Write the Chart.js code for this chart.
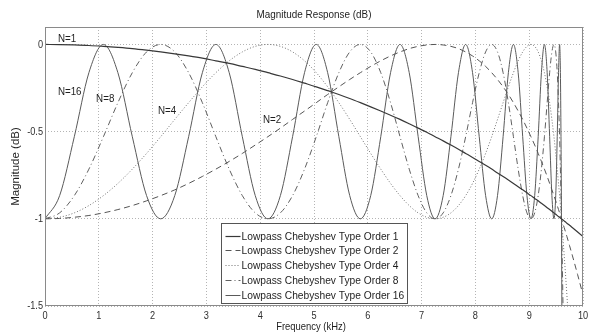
<!DOCTYPE html>
<html>
<head>
<meta charset="utf-8">
<script src="https://cdn.jsdelivr.net/npm/chart.js@4/dist/chart.umd.min.js"></script>
<style>
  html, body { margin: 0; padding: 0; background: #fff; }
  #wrap { position: relative; width: 592px; height: 336px; }
</style>
</head>
<body>
<div id="wrap"><canvas id="c" width="592" height="336"></canvas></div>
<script>
// Frequency samples (kHz) across the passband, 0 .. 9.6 kHz
const freqKHz = [
  0, 0.272, 0.545, 0.816, 1.086, 1.355, 1.623, 1.888, 2.151, 2.412, 2.670, 2.925, 3.176,
  3.424, 3.668, 3.908, 4.143, 4.375, 4.602, 4.824, 5.042, 5.254, 5.462, 5.664, 5.862,
  6.054, 6.241, 6.423, 6.599, 6.770, 6.936, 7.096, 7.251, 7.401, 7.545, 7.685, 7.819,
  7.947, 8.071, 8.190, 8.303, 8.411, 8.515, 8.613, 8.707, 8.795, 8.879, 8.958, 9.032,
  9.102, 9.167, 9.227, 9.283, 9.334, 9.380, 9.422, 9.460, 9.493, 9.521, 9.545, 9.565,
  9.580, 9.591, 9.598, 9.600
];

// Magnitude (dB) in the passband, one array per filter order
const order1 = [
  0, -0.001, -0.003, -0.006, -0.011, -0.017, -0.024, -0.033, -0.043, -0.054, -0.066, -0.079, -0.094,
  -0.109, -0.126, -0.143, -0.162, -0.181, -0.201, -0.222, -0.243, -0.265, -0.287, -0.310, -0.334,
  -0.358, -0.382, -0.406, -0.430, -0.455, -0.480, -0.504, -0.529, -0.553, -0.577, -0.601, -0.625,
  -0.648, -0.671, -0.693, -0.715, -0.737, -0.757, -0.777, -0.797, -0.816, -0.834, -0.851, -0.867,
  -0.883, -0.897, -0.911, -0.924, -0.936, -0.947, -0.957, -0.966, -0.974, -0.981, -0.987, -0.991,
  -0.995, -0.998, -1.000, -1.000
];
const order2 = [
  -1, -0.998, -0.991, -0.981, -0.966, -0.947, -0.924, -0.897, -0.867, -0.834, -0.797, -0.757, -0.715,
  -0.671, -0.625, -0.577, -0.529, -0.480, -0.430, -0.382, -0.334, -0.287, -0.243, -0.201, -0.162,
  -0.126, -0.094, -0.066, -0.043, -0.024, -0.011, -0.003, 0, -0.003, -0.011, -0.024, -0.043,
  -0.066, -0.094, -0.126, -0.162, -0.201, -0.243, -0.287, -0.334, -0.382, -0.430, -0.480, -0.529,
  -0.577, -0.625, -0.671, -0.715, -0.757, -0.797, -0.834, -0.867, -0.897, -0.924, -0.947, -0.966,
  -0.981, -0.991, -0.998, -1
];
const order4 = [
  -1, -0.991, -0.966, -0.924, -0.867, -0.797, -0.715, -0.625, -0.529, -0.430, -0.334, -0.243, -0.162,
  -0.094, -0.043, -0.011, 0, -0.011, -0.043, -0.094, -0.162, -0.243, -0.334, -0.430, -0.529,
  -0.625, -0.715, -0.797, -0.867, -0.924, -0.966, -0.991, -1, -0.991, -0.966, -0.924, -0.867,
  -0.797, -0.715, -0.625, -0.529, -0.430, -0.334, -0.243, -0.162, -0.094, -0.043, -0.011, 0,
  -0.011, -0.043, -0.094, -0.162, -0.243, -0.334, -0.430, -0.529, -0.625, -0.715, -0.797, -0.867,
  -0.924, -0.966, -0.991, -1
];
const order8 = [
  -1, -0.966, -0.867, -0.715, -0.529, -0.334, -0.162, -0.043, 0, -0.043, -0.162, -0.334, -0.529,
  -0.715, -0.867, -0.966, -1, -0.966, -0.867, -0.715, -0.529, -0.334, -0.162, -0.043, 0,
  -0.043, -0.162, -0.334, -0.529, -0.715, -0.867, -0.966, -1, -0.966, -0.867, -0.715, -0.529,
  -0.334, -0.162, -0.043, 0, -0.043, -0.162, -0.334, -0.529, -0.715, -0.867, -0.966, -1,
  -0.966, -0.867, -0.715, -0.529, -0.334, -0.162, -0.043, 0, -0.043, -0.162, -0.334, -0.529,
  -0.715, -0.867, -0.966, -1
];
const order16 = [
  -1, -0.867, -0.529, -0.162, 0, -0.162, -0.529, -0.867, -1, -0.867, -0.529, -0.162, 0,
  -0.162, -0.529, -0.867, -1, -0.867, -0.529, -0.162, 0, -0.162, -0.529, -0.867, -1,
  -0.867, -0.529, -0.162, 0, -0.162, -0.529, -0.867, -1, -0.867, -0.529, -0.162, 0,
  -0.162, -0.529, -0.867, -1, -0.867, -0.529, -0.162, 0, -0.162, -0.529, -0.867, -1,
  -0.867, -0.529, -0.162, 0, -0.162, -0.529, -0.867, -1, -0.867, -0.529, -0.162, 0,
  -0.162, -0.529, -0.867, -1
];

// Transition band, 9.6 .. 10 kHz
const tailKHz = [9.61, 9.62, 9.63, 9.65, 9.67, 9.70, 9.75, 9.80, 9.90, 10.0];
const tail1  = [-1.003, -1.005, -1.007, -1.012, -1.017, -1.025, -1.037, -1.050, -1.076, -1.102];
const tail2  = [-1.010, -1.020, -1.030, -1.050, -1.070, -1.101, -1.154, -1.208, -1.320, -1.437];
const tail4  = [-1.040, -1.080, -1.122, -1.207, -1.295, -1.434, -1.680, null, null, null];
const tail8  = [-1.164, -1.341, -1.529, -1.939, null, null, null, null, null, null];
const tail16 = [-1.724, -2.629, null, null, null, null, null, null, null, null];

const seriesNames = [
  'Lowpass Chebyshev Type Order 1',
  'Lowpass Chebyshev Type Order 2',
  'Lowpass Chebyshev Type Order 4',
  'Lowpass Chebyshev Type Order 8',
  'Lowpass Chebyshev Type Order 16'
];
const xTickValues = [0, 1, 2, 3, 4, 5, 6, 7, 8, 9, 10];
const yTickValues = [-1.5, -1, -0.5, 0];

// In-plot curve tags, placed in data units (kHz, dB)
const curveTags = [
  { text: 'N=1',  f: 0.24, db: 0.034 },
  { text: 'N=16', f: 0.24, db: -0.27 },
  { text: 'N=8',  f: 0.95, db: -0.31 },
  { text: 'N=4',  f: 2.10, db: -0.38 },
  { text: 'N=2',  f: 4.05, db: -0.43 }
];

const FONT = '"Liberation Sans", Arial, Helvetica, sans-serif';
const INK = '#1e1e1e';

function points(vals, tail) {
  const xs = freqKHz.concat(tailKHz);
  const ys = vals.concat(tail);
  return xs.map((f, i) => ({ x: f, y: ys[i] }));
}

// text drawn with a slight horizontal squeeze, like the narrow screen font of the plot
function squeezedText(ctx, text, x, y, sx, align) {
  ctx.save();
  ctx.translate(x, y);
  ctx.scale(sx, 1);
  ctx.textAlign = align;
  ctx.fillText(text, 0, 0);
  ctx.restore();
}

const styles = [
  { color: '#383838', dash: [],           width: 1.2 },
  { color: '#555555', dash: [6, 4],       width: 1 },
  { color: '#707070', dash: [1, 2],       width: 1 },
  { color: '#606060', dash: [6, 3, 1, 3], width: 1 },
  { color: '#5a5a5a', dash: [],           width: 1 }
];
const seriesValues = [[order1, tail1], [order2, tail2], [order4, tail4], [order8, tail8], [order16, tail16]];

const datasets = seriesValues.map((sv, i) => ({
  label: seriesNames[i],
  data: points(sv[0], sv[1]),
  borderColor: styles[i].color,
  borderDash: styles[i].dash,
  borderWidth: styles[i].width,
  pointRadius: 0,
  fill: false,
  cubicInterpolationMode: 'monotone',
  spanGaps: false
}));

// Frame, tick labels, curve tags, legend box and titles
const decorations = {
  id: 'decorations',
  afterDatasetsDraw(chart) {
    const { ctx, chartArea: a, scales: { x, y } } = chart;
    ctx.save();

    // axes box
    ctx.strokeStyle = '#8a8a8a';
    ctx.lineWidth = 1;
    ctx.setLineDash([]);
    ctx.strokeRect(Math.round(a.left) + 0.5, Math.round(a.top) + 0.5,
                   Math.round(a.right - a.left) - 1, Math.round(a.bottom - a.top) - 1);

    // tick labels
    ctx.fillStyle = '#303030';
    ctx.font = '11.5px ' + FONT;
    ctx.textBaseline = 'middle';
    x.ticks.forEach(t => squeezedText(ctx, String(t.value), x.getPixelForValue(t.value), a.bottom + 10, 0.8, 'center'));
    y.ticks.forEach(t => squeezedText(ctx, String(t.value), a.left - 2, y.getPixelForValue(t.value), 0.8, 'right'));

    // curve tags
    ctx.fillStyle = INK;
    curveTags.forEach(t => squeezedText(ctx, t.text, x.getPixelForValue(t.f), y.getPixelForValue(t.db), 0.85, 'left'));

    // legend
    const sx = 0.89;
    const maxW = Math.max(...seriesNames.map(s => ctx.measureText(s).width)) * sx;
    const boxW = Math.round(20 + maxW + 3);
    const boxH = 80;
    const bx = Math.round((a.left + a.right) / 2 - boxW / 2) + 0.5;
    const by = Math.round(a.bottom - 3 - boxH) + 0.5;
    ctx.fillStyle = '#ffffff';
    ctx.fillRect(bx, by, boxW, boxH);
    ctx.strokeStyle = '#555555';
    ctx.strokeRect(bx, by, boxW, boxH);
    chart.data.datasets.forEach((ds, i) => {
      const ry = Math.round(by + 12 + i * 14.75) + 0.5;
      ctx.strokeStyle = ds.borderColor;
      ctx.lineWidth = ds.borderWidth;
      ctx.setLineDash(ds.borderDash);
      ctx.beginPath();
      ctx.moveTo(bx + 4, ry);
      ctx.lineTo(bx + 19, ry);
      ctx.stroke();
      ctx.setLineDash([]);
      ctx.fillStyle = INK;
      squeezedText(ctx, ds.label, bx + 20, ry, sx, 'left');
    });
    ctx.restore();
  },
  afterDraw(chart) {
    const { ctx, chartArea: a } = chart;
    ctx.save();
    ctx.fillStyle = INK;
    ctx.textBaseline = 'middle';
    ctx.font = '11.5px ' + FONT;
    const cx = (a.left + a.right) / 2;
    squeezedText(ctx, 'Magnitude Response (dB)', cx, 15, 0.86, 'center');
    squeezedText(ctx, 'Frequency (kHz)', cx - 3, 327, 0.82, 'center');
    ctx.translate(16, (a.top + a.bottom) / 2);
    ctx.rotate(-Math.PI / 2);
    ctx.textAlign = 'center';
    ctx.fillText('Magnitude (dB)', 0, 0);
    ctx.restore();
  }
};

new Chart(document.getElementById('c'), {
  type: 'line',
  data: { datasets },
  options: {
    responsive: false,
    animation: false,
    events: [],
    layout: { padding: { left: 0, right: 9, top: 27, bottom: 0 } },
    plugins: { legend: { display: false }, title: { display: false }, tooltip: { enabled: false } },
    scales: {
      x: {
        type: 'linear',
        min: 0, max: 10,
        afterBuildTicks: s => { s.ticks = xTickValues.map(v => ({ value: v })); },
        afterFit: s => { s.height = 30; },
        ticks: { display: false },
        grid: { color: '#b4b4b4', lineWidth: 1, drawTicks: false },
        border: { display: false, dash: [1, 2] }
      },
      y: {
        type: 'linear',
        min: -1.5, max: 0.1,
        afterBuildTicks: s => { s.ticks = yTickValues.map(v => ({ value: v })); },
        afterFit: s => { s.width = 45; },
        ticks: { display: false },
        grid: { color: '#b4b4b4', lineWidth: 1, drawTicks: false },
        border: { display: false, dash: [1, 2] }
      }
    }
  },
  plugins: [decorations]
});
</script>
</body>
</html>
